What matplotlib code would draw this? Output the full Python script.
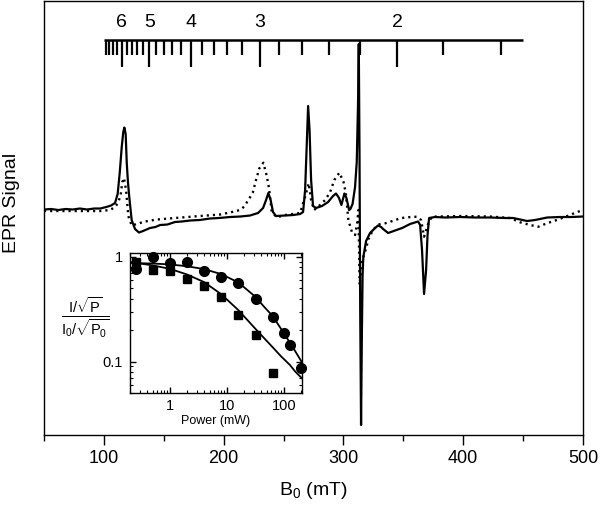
import numpy as np
import matplotlib
matplotlib.use('Agg')
import matplotlib.pyplot as plt
from matplotlib.transforms import blended_transform_factory
from matplotlib.ticker import FixedLocator, NullFormatter, FuncFormatter, LogLocator, MultipleLocator

plt.rcParams['font.family'] = ['Liberation Sans', 'DejaVu Sans']
plt.rcParams['mathtext.fontset'] = 'custom'
plt.rcParams['mathtext.rm'] = 'Liberation Sans'
plt.rcParams['mathtext.it'] = 'Liberation Sans'
plt.rcParams['mathtext.sf'] = 'Liberation Sans'

# ---------------- data: main EPR spectrum ----------------
solid_B = [50, 56, 62, 68, 74, 80, 86, 92, 97, 102, 106, 109.3, 111.5, 113.3, 114.9, 116.2, 117.1,
           118.2, 119.1, 120.1, 121.2, 123.2, 126, 129.3, 132.7, 138.5, 143, 147, 153, 159.4, 165,
           172, 180, 188.6, 196, 205.3, 214, 222, 228.7, 232.9, 235.4, 237.3, 239.2, 241.2, 243.7,
           251.3, 258, 263.8, 266.3, 268, 269.2, 270.5, 271.7, 273, 274.6, 277.1, 282.1, 287.2,
           291.3, 293.8, 296.3, 298.3, 300.8, 302.5, 304.7, 305.8, 307.6, 309.7, 311.1, 312.2,
           312.8, 313.4, 314, 314.7, 315.4, 316, 316.6, 318.9, 322.2, 326.4, 328.9, 331.5, 333.1,
           337.3, 343.1, 349, 355.6, 362.3, 364, 365.6, 367.3, 369, 370.2, 371.5, 376.5, 385,
           397.4, 410, 422.4, 435, 441.6, 447.5, 453.3, 460, 470, 480.9, 490, 500]
solid_S = [2.5, 3, 2, 3, 2.5, 3.5, 2.5, 3.5, 3.5, 5, 6.5, 9, 18, 40, 65, 80, 84.5,
           78, 49, 30, 15, -8, -17, -20.5, -19, -16, -15, -13, -12.5, -10, -9.5,
           -8.5, -8, -6.5, -6, -5, -4.5, -3.5, -1, 4, 12, 19, 12, 0, -4,
           -3.5, -3, -2, 0, 22, 62, 106, 82, 32, 6, 4, 6, 10,
           16, 18.5, 14, 7, 18.5, 14, 2, 3, 8, 25, 50, 110,
           168, 60, -100, -213, -120, -62, -45, -29, -21, -16, -13.5, -15, -17,
           -21, -18.5, -16, -12, -9.5, -13, -38, -82, -58, -23, -6, -5, -5.5,
           -5, -5.5, -5.5, -6, -6, -7.5, -9, -8, -5.5, -5, -5, -4.5]

dot_B = [50, 60, 71.7, 84, 96.8, 105.1, 109.3, 111.8, 114, 115.4, 116.8, 118.5, 120.4, 123.2,
         127.4, 134.3, 144.4, 159.4, 180.3, 197, 207, 213.7, 217, 220.6, 224.3, 227, 229.8,
         233.1, 236, 237.9, 240.1, 244.3, 251.3, 263.8, 268, 271, 273, 275.5, 280.5, 284.7,
         288.8, 292.4, 296.6, 300, 302, 304.1, 307, 309.7, 311.6, 312.5, 313.5, 315.4, 318.9,
         320.8, 325, 330, 334.8, 341.7, 347.3, 352.9, 361.2, 364.8, 367.3, 370.9, 373.8,
         397.4, 422.4, 439.1, 447.5, 455.8, 462.8, 469.8, 478.1, 489.2, 493.4, 497.6]
dot_S = [1, 1, 1, 1, 1, 2, 5, 9, 17, 30, 34, 22, -4, -13.5,
         -12, -9.5, -7.5, -6, -4, -2.5, 0, 2, 5.3, 12, 19.3, 32, 43.7,
         49.3, 36, 23.7, 0.3, -5.3, -3, -1, 15.3, 28.7, 12, 2, 7, 12,
         19.7, 32, 39.3, 30.3, 18.7, -8, -19.7, -23, -9.7, 2, -73, -49.7, -36.3,
         -27.3, -17.3, -12.3, -11.3, -8.7, -6.3, -5.3, -4.7, -8, -24.7, -11.3, -4.7,
         -4, -4.5, -6, -10.3, -13, -14.7, -11.3, -8, -3, -0.7, 1]

# g-value scale bar
g_major = [6, 5, 4, 3, 2]
g_minor = [6.8, 6.6, 6.4, 6.2, 5.8, 5.6, 5.4, 5.2, 4.8, 4.6, 4.4, 4.2,
           3.8, 3.6, 3.4, 3.2, 2.8, 2.6, 2.4, 2.2, 1.8, 1.6]
freq_GHz = 9.66
bar_range = [100, 450]

# ---------------- data: inset (power saturation) ----------------
P_circ = [0.25, 0.5, 1, 2, 4, 8, 16, 32, 64, 100, 128, 200]
r_circ = [0.77, 1.0, 0.87, 0.885, 0.74, 0.64, 0.567, 0.395, 0.269, 0.186, 0.145, 0.0876]
P_sq = [0.25, 0.5, 1, 2, 4, 8, 16, 32, 64]
r_sq = [0.895, 0.756, 0.73, 0.61, 0.526, 0.41, 0.281, 0.179, 0.0773]

fitP_circ = [0.2, 0.5, 1, 2, 4, 8, 16, 32, 45, 64, 90, 128, 160, 210]
fitr_circ = [0.875, 0.865, 0.848, 0.815, 0.765, 0.685, 0.57, 0.415, 0.335, 0.272, 0.205, 0.152, 0.125, 0.098]
fitP_sq = [0.2, 0.5, 1, 2, 4, 8, 16, 32, 45, 64, 90, 128, 160, 210]
fitr_sq = [0.895, 0.83, 0.77, 0.68, 0.575, 0.44, 0.31, 0.205, 0.168, 0.137, 0.112, 0.093, 0.08, 0.069]

# ---------------- figure ----------------
fig = plt.figure(figsize=(6, 5.12), dpi=100)
ax = fig.add_axes([0.0733, 0.1504, 0.8984, 0.8476])

ax.plot(dot_B, dot_S, color='black', lw=1.7, linestyle=(0, (0.9, 1.7)), zorder=2)
ax.plot(solid_B, solid_S, color='black', lw=1.6, zorder=3)

ax.set_xlim(50, 500)
ax.set_ylim(-223, 211)
ax.set_yticks([])
ax.set_xticks([100, 200, 300, 400, 500])
ax.xaxis.set_minor_locator(MultipleLocator(50))
ax.tick_params(axis='x', which='major', direction='out', length=7, width=1.0, labelsize=13, pad=4)
ax.tick_params(axis='x', which='minor', direction='out', length=4, width=1.0)
for s in ax.spines.values():
    s.set_linewidth(1.0)

ax.set_xlabel('B$_0$ (mT)', fontsize=14)
ax.xaxis.set_label_coords(0.5, -0.103)
ax.set_ylabel('EPR Signal', fontsize=14)
ax.yaxis.set_label_coords(-0.044, 0.535)

# g-scale on top
trans = blended_transform_factory(ax.transData, ax.transAxes)
conv = 71.4477 * freq_GHz  # mT * g
y_bar = 0.910
ax.plot(bar_range, [y_bar, y_bar], transform=trans, color='black', lw=1.8, solid_capstyle='butt', zorder=4)
ax.vlines([conv / g for g in g_major], 0.848, y_bar, transform=trans, color='black', lw=1.6, zorder=4)
ax.vlines([conv / g for g in g_minor], 0.876, y_bar, transform=trans, color='black', lw=1.6, zorder=4)
for g in g_major:
    ax.text(conv / g, 0.950, str(g), transform=trans, ha='center', va='center', fontsize=14)

# ---------------- inset ----------------
axin = fig.add_axes([0.2167, 0.2324, 0.2867, 0.2734])
axin.set_xscale('log')
axin.set_yscale('log')
axin.plot(fitP_circ, fitr_circ, color='black', lw=1.3)
axin.plot(fitP_sq, fitr_sq, color='black', lw=1.3)
axin.plot(P_circ, r_circ, 'o', color='black', ms=7, clip_on=False, zorder=5)
axin.plot(P_sq, r_sq, 's', color='black', ms=6.3, clip_on=False, zorder=5)
axin.set_xlim(0.2, 210)
axin.set_ylim(0.05, 1.09)
axin.xaxis.set_major_locator(FixedLocator([1, 10, 100]))
axin.yaxis.set_major_locator(FixedLocator([0.1, 1]))
axin.xaxis.set_minor_locator(LogLocator(base=10, subs=np.arange(2, 10)))
axin.yaxis.set_minor_locator(LogLocator(base=10, subs=np.arange(2, 10)))
fmt = FuncFormatter(lambda v, p: ('%g' % v))
axin.xaxis.set_major_formatter(fmt)
axin.yaxis.set_major_formatter(fmt)
axin.xaxis.set_minor_formatter(NullFormatter())
axin.yaxis.set_minor_formatter(NullFormatter())
axin.tick_params(which='both', direction='in', top=True, right=True, labelsize=10.5)
axin.tick_params(axis='x', which='both', pad=4)
axin.tick_params(axis='y', which='both', pad=5)
axin.tick_params(which='major', length=4, width=1.0)
axin.tick_params(which='minor', length=2.5, width=0.8)
for s in axin.spines.values():
    s.set_linewidth(1.0)
axin.set_xlabel('Power (mW)', fontsize=9, labelpad=1.5)
fig.text(85 / 600, 1 - 318 / 512,
         r'$\frac{\mathrm{I}/\sqrt{\mathrm{P}}}{\mathrm{I_0}/\sqrt{\mathrm{P_0}}}$',
         ha='center', va='center', fontsize=15)

fig.savefig('out.png', dpi=100)
